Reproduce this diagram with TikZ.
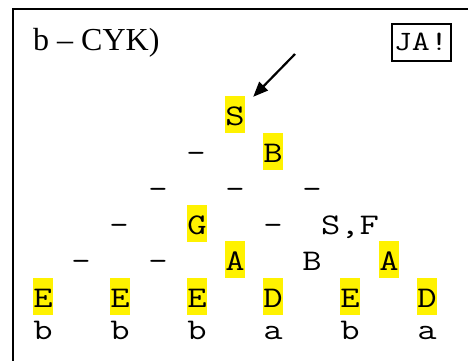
\documentclass[tikz,border=0pt]{standalone}
\usepackage{fontspec}
\setmainfont{Liberation Serif}
\newfontfamily\cmono{Latin Modern Mono}[FakeStretch=1.25]
\usetikzlibrary{arrows.meta}
\begin{document}
\begin{tikzpicture}[x=1pt,y=-1pt,
  cell/.style={font=\cmono\fontsize{30}{37}\selectfont, inner sep=0pt,
    minimum width=20pt, text height=29pt, text depth=8pt, anchor=base},
  hl/.style={cell, fill=yellow},
  emptycell/.style={cell}]
\useasboundingbox (0,0) rectangle (468,360);
\clip (0,0) rectangle (468,360);
% frame
\draw[line width=2pt] (12.5,380) -- (12.5,8.5) -- (490,8.5);
% title
\node[anchor=base west, inner sep=0pt, font=\fontsize{32}{37}\selectfont] (title) at (33,50) {b -- CYK)};
\node[draw, line width=2pt, inner sep=0pt, minimum width=59pt, minimum height=37pt,
  font=\cmono\fontsize{28}{30}\selectfont] (ja) at (421,42) {JA!};
% row 6
\node[hl] (S6) at (235,125) {S};
% row 5
\node[emptycell] (d54) at (196,162) {–};
\node[hl] (B56) at (273,162) {B};
% row 4
\node[emptycell] (d43) at (158,198.5) {–};
\node[emptycell] (d45) at (235,198.5) {–};
\node[emptycell] (d47) at (312,198.5) {–};
% row 3
\node[emptycell] (d32) at (119,234) {–};
\node[hl] (G34) at (197,234) {G};
\node[emptycell] (d36) at (273,234) {–};
\node[cell] (SF38) at (350,234) {S,F};
% row 2
\node[emptycell] (d21) at (81,270) {–};
\node[emptycell] (d23) at (158,270) {–};
\node[hl] (A25) at (235,270) {A};
\node[cell] (B27) at (312,270) {B};
\node[hl] (A29) at (389,270) {A};
% row 1
\node[hl] (E10) at (43,307) {E};
\node[hl] (E12) at (120,307) {E};
\node[hl] (E14) at (197,307) {E};
\node[hl] (D16) at (273,307) {D};
\node[hl] (E18) at (350,307) {E};
\node[hl] (D110) at (427,307) {D};
% row 0
\node[cell] (w1) at (43,339) {b};
\node[cell] (w2) at (120,339) {b};
\node[cell] (w3) at (197,339) {b};
\node[cell] (w4) at (273,339) {a};
\node[cell] (w5) at (350,339) {b};
\node[cell] (w6) at (427,339) {a};
% arrow
\coordinate (astart) at (295,54);
\draw[line width=2.2pt, -{Triangle[length=15pt,width=12pt]}] (astart) -- ([xshift=8pt,yshift=-1pt]S6.north east);
\end{tikzpicture}
\end{document}
